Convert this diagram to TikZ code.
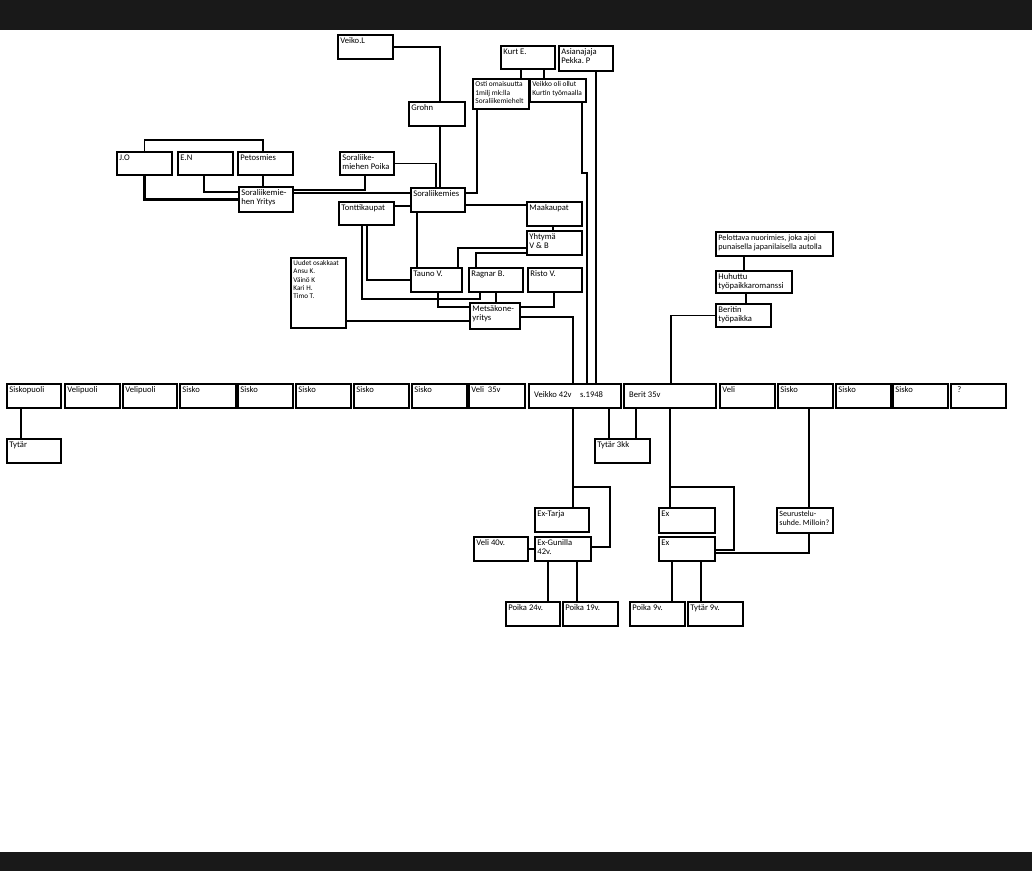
\documentclass[tikz,border=0pt]{standalone}
\usepackage{fontspec}
\setmainfont{Carlito}
\frenchspacing
\tikzset{
  bx/.style={draw=black, fill=white, line width=1.9pt, inner sep=0pt, outer sep=0pt, anchor=north west},
  bxb/.style={bx, line width=2.9pt},
  tx/.style={anchor=north west, inner sep=0pt, align=left, font=\fontsize{8.6}{9.4}\selectfont},
  txs/.style={font=\fontsize{7.4}{8.5}\selectfont},
  txu/.style={font=\fontsize{7.2}{8.3}\selectfont},
  txp/.style={font=\fontsize{8.2}{9.4}\selectfont},
  txm/.style={font=\fontsize{8}{9.2}\selectfont},
  thk/.style={line width=2.4pt},
  thn/.style={line width=1.3pt},
  bar/.style={fill=black!90},
}
\newcommand\bx[7][]{%
  \node[bx,minimum width={#5-#3},minimum height={#6-#4}] (#2) at (#3,#4) {};
  \node[tx,#1] (#2-t) at ([xshift=2.2pt,yshift=-2.4pt]#2.north west) {#7};}
\newcommand\bxT[6]{%
  \node[bxb,minimum width={#4-#2},minimum height={#5-#3}] (#1) at (#2,#3) {};
  \node[tx] (#1-t) at ([xshift=5pt,yshift=-7pt]#1.north west) {#6};}
\begin{document}
\begin{tikzpicture}[x=1pt,y=-1pt]
\useasboundingbox (0,0) rectangle (1032,871);
\fill[bar] (0,0) rectangle (1032,30);
\fill[bar] (0,852) rectangle (1032,871);

% upper cluster
\bx{veiko}{338}{35}{393}{59}{Veiko.L}
\bx{kurt}{501}{46}{555}{69}{Kurt E.}
\bx{asian}{559}{46}{613}{71}{Asianajaja\\Pekka. P}
\bx[txs]{osti}{473}{79}{529}{109}{Osti omaisuutta\\1milj mk:lla\\Soraliikemiehelt}
\bx[txs]{velkko}{530}{79}{586}{102}{Veikko oli ollut\\Kurtin työmaalla}
\bx{grohn}{409}{102}{465}{126}{Grohn}
\bx{jo}{117}{152}{172}{175}{J.O}
\bx{en}{178}{152}{233}{175}{E.N}
\bx{petos}{238}{152}{293}{175}{Petosmies}
\bx{poika}{340}{152}{394}{175}{Soraliike-\\miehen Poika}
\bx{yritys}{239}{187}{293}{212}{Soraliikemie-\\hen Yritys}
\bx{sora}{411}{188}{465}{212}{Soraliikemies}
\bx{tontti}{339}{202}{394}{225}{Tonttikaupat}
\bx{maa}{527}{202}{582}{226}{Maakaupat}
\bx{yht}{527}{231}{582}{255}{Yhtymä\\V \& B}
\bx[txu]{uudet}{291}{258}{346}{328}{Uudet osakkaat\\Ansu K.\\Väinö K\\Kari H.\\Timo T.}
\bx{tauno}{411}{268}{462}{292}{Tauno V.}
\bx{ragnar}{469}{268}{523}{292}{Ragnar B.}
\bx{risto}{528}{268}{582}{292}{Risto V.}
\bx{mets}{470}{303}{520}{329}{Metsäkone-\\yritys}
\bx[txp]{pelo}{716}{232}{833}{256}{Pelottava nuorimies, joka ajoi\\punaisella japanilaisella autolla}
\bx{huhu}{716}{271}{792}{293}{Huhuttu\\työpaikkaromanssi}
\bx{beritt}{716}{304}{771}{327}{Beritin\\työpaikka}

% main row
\bx{sp}{7}{384}{61}{408}{Siskopuoli}
\bx{vp1}{65}{384}{120}{408}{Velipuoli}
\bx{vp2}{123}{384}{177}{408}{Velipuoli}
\bx{s1}{180}{384}{236}{408}{Sisko}
\bx{s2}{238}{384}{293}{408}{Sisko}
\bx{s3}{296}{384}{351}{408}{Sisko}
\bx{s4}{354}{384}{409}{408}{Sisko}
\bx{s5}{412}{384}{467}{408}{Sisko}
\bx{veli35}{469}{384}{525}{408}{Veli\ \ 35v}
\bxT{veikko}{529}{384}{621}{408}{Veikko 42v\quad s.1948}
\bxT{berit}{624}{384}{716}{408}{Berit 35v}
\bx{veli}{720}{384}{775}{408}{Veli}
\bx{s6}{778}{384}{833}{408}{Sisko}
\bx{s7}{836}{384}{891}{408}{Sisko}
\bx{s8}{893}{384}{948}{408}{Sisko}
\bx{q}{951}{384}{1006}{408}{\ \ ?}

% lower part
\bx{tytar}{7}{439}{61}{463}{Tytär}
\bx{tytar3}{595}{439}{650}{463}{Tytär 3kk}
\bx{extarja}{535}{508}{589}{532}{Ex-Tarja}
\bx{exgun}{535}{537}{591}{561}{Ex-Gunilla\\42v.}
\bx{veli40}{474}{537}{528}{561}{Veli 40v.}
\bx{p24}{506}{602}{560}{626}{Poika 24v.}
\bx{p19}{563}{602}{618}{626}{Poika 19v.}
\bx{exa}{659}{508}{715}{533}{Ex}
\bx{exb}{659}{537}{715}{561}{Ex}
\bx{p9}{630}{602}{685}{626}{Poika 9v.}
\bx{t9}{688}{602}{743}{626}{Tytär 9v.}
\bx[txm]{seur}{777}{508}{833}{533}{Seurustelu-\\suhde. Milloin?}

% connectors, upper cluster
\draw[thk] (veiko.east) -| ([xshift=3pt]grohn.north);
\draw[thk] ([xshift=3pt]grohn.south) -- ([xshift=3pt]grohn.south |- sora.north);
\draw[thk] ([xshift=-7pt]kurt.south) -- ([xshift=-7pt]kurt.south |- osti.north);
\draw[thk] ([xshift=16pt]kurt.south) -- ([xshift=16pt]kurt.south |- velkko.north);
\draw[thn] ([xshift=10pt]asian.south) -- ([xshift=10pt]asian.south |- veikko.north);
\draw[thk] ([xshift=24pt]velkko.south) -- ++(0,71) -| ([xshift=12pt]veikko.north);
\draw[thn] ([xshift=-24pt]osti.south) |- ([yshift=7pt]sora.east);
\draw[thn] (poika.east) -| ([xshift=-2pt]sora.north);
\draw[thn] (jo.north) -- ++(0,-12) -| ([xshift=-2.5pt]petos.north);
\draw[thk] (jo.south) |- (yritys.west);
\draw[thk] ([xshift=-1.5pt]en.south) |- ([yshift=7.5pt]yritys.west);
\draw[thk] ([xshift=-2.5pt]petos.south) -- ([xshift=-2.5pt]petos.south |- yritys.north);
\draw[thk] ([yshift=9.5pt]yritys.east) -| ([xshift=-2pt]poika.south);
\draw[thk] ([yshift=6.5pt]yritys.east) -- ([yshift=6.5pt]yritys.east -| sora.west);
\draw[thn] ([yshift=7.5pt]tontti.east) -- ([yshift=7.5pt]tontti.east -| sora.west);
\draw[thk] ([yshift=-5pt]sora.east) -- ([yshift=-5pt]sora.east -| maa.west);
\draw[thk] ([xshift=-1.5pt]maa.south) -- ([xshift=-1.5pt]maa.south |- yht.north);
\draw[thn] ([yshift=-5pt]yht.west) -| ([xshift=21.5pt]tauno.north);
\draw[thk] ([yshift=-10pt]yht.west) -| ([xshift=-20pt]ragnar.north);
\draw[thn] ([xshift=-21pt]sora.south) -- ([xshift=-21pt]sora.south |- tauno.north);
\draw[thk] ([xshift=0.5pt]tontti.south) |- (tauno.west);
\draw[thn] ([xshift=-4.5pt]tontti.south) -- ++(0,74) -| ([xshift=-16pt]ragnar.south);
\draw[thk] ([xshift=1.5pt]tauno.south) |- ([yshift=9pt]mets.west);
\draw[thk] (ragnar.south) -- (ragnar.south |- mets.north);
\draw[thk] ([xshift=-1pt]risto.south) |- ([yshift=9pt]mets.east);
\draw[thk] ([yshift=-28pt]uudet.east) -- ([yshift=-28pt]uudet.east -| mets.west);
\draw[thn] ([yshift=-1pt]mets.east) -| ([xshift=-2pt]veikko.north);
\draw[thk] ([xshift=-30.5pt]pelo.south) -- ([xshift=-30.5pt]pelo.south |- huhu.north);
\draw[thk] ([xshift=-8pt]huhu.south) -- ([xshift=-8pt]huhu.south |- beritt.north);
\draw[thn] (beritt.west) -| ([xshift=1pt]berit.north);

% connectors, lower part
\draw[thn] ([xshift=-13pt]sp.south) -- ([xshift=-13pt]sp.south |- tytar.north);
\draw[thk] ([xshift=34pt]veikko.south) -- ([xshift=34pt]veikko.south |- tytar3.north);
\draw[thn] ([xshift=-34pt]berit.south) -- ([xshift=-34pt]berit.south |- tytar3.north);
\draw[thn] ([xshift=-2pt]veikko.south) -- ([xshift=-2pt]veikko.south |- extarja.north);
\draw[thn] ([xshift=-2pt,yshift=-79pt]veikko.south) -- ++(37,0) |- ([yshift=2pt]exgun.east);
\draw[thn] (berit.south) -- (berit.south |- exa.north);
\draw[thn] ([yshift=-79pt]berit.south) -- ++(64,0) |- ([yshift=-1pt]exb.east);
\draw[thk] ([xshift=3.5pt]s6.south) -- ([xshift=3.5pt]s6.south |- seur.north);
\draw[thk] ([xshift=4pt]seur.south) |- ([yshift=-4pt]exb.east);
\draw[thk] (veli40.east) -- (exgun.west);
\draw[thk] ([xshift=-15pt]exgun.south) -- ([xshift=-15pt]exgun.south |- p24.north);
\draw[thn] ([xshift=14pt]exgun.south) -- ([xshift=14pt]exgun.south |- p19.north);
\draw[thk] ([xshift=-15pt]exb.south) -- ([xshift=-15pt]exb.south |- p9.north);
\draw[thn] ([xshift=14pt]exb.south) -- ([xshift=14pt]exb.south |- t9.north);
\end{tikzpicture}
\end{document}
